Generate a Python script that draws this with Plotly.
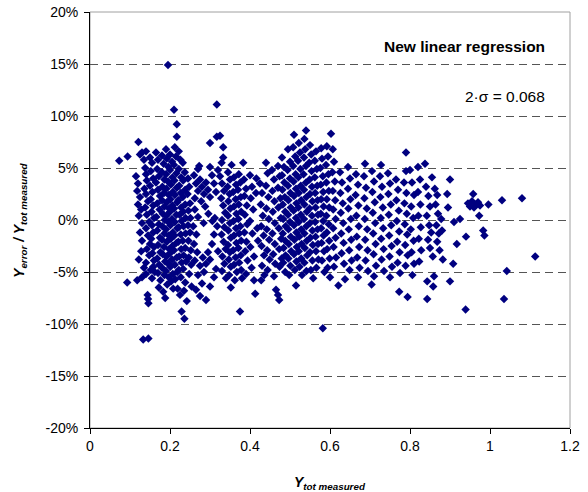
import plotly.graph_objects as go

# (Y_tot measured, Y_error / Y_tot measured in %)
pts_left = [(0.073,5.7),(0.094,6.1),(0.121,7.5),(0.093,-6.0),(0.133,-11.5),(0.146,-11.4),
(0.125,6.3),(0.13,6.5),(0.14,6.6),(0.115,4.2),(0.12,3.5),(0.118,2.8),(0.125,2.2),(0.12,1.5),(0.128,1.0),(0.122,0.4),(0.13,-0.3),(0.125,-1.2),(0.13,-2.0),(0.128,-3.0),(0.122,-3.8),(0.135,-4.6),(0.13,-5.5),(0.118,-5.8),(0.14,-5.2),(0.144,-7.2),(0.145,-7.6),(0.146,-8.0),(0.135,5.8),(0.138,5.0),(0.14,4.4),(0.142,3.8),(0.136,3.0),(0.14,2.5),(0.145,1.8),(0.138,1.2),(0.142,0.5),(0.148,-0.2),(0.14,-0.8),(0.145,-1.5),(0.15,-2.3),(0.142,-2.8),(0.148,-3.4),(0.14,-4.1),(0.152,-4.8),(0.155,-5.6),(0.15,6.0),(0.155,5.5),(0.152,4.7),(0.158,4.0),(0.15,3.3),(0.156,2.7),(0.152,2.0),(0.158,1.4),(0.154,0.8),(0.16,0.2),(0.155,-0.5),(0.158,-1.2),(0.153,-1.8),(0.16,-2.6),(0.156,-3.2),(0.16,-3.9),(0.158,-4.5),(0.162,-5.0)]

pts_core = [(0.165,6.5),(0.17,5.8),(0.168,4.9),(0.172,4.2),(0.165,3.6),(0.17,2.9),(0.175,2.3),(0.168,1.6),(0.174,1.0),(0.166,0.3),(0.172,-0.4),(0.168,-1.0),(0.175,-1.7),(0.17,-2.4),(0.176,-3.1),(0.168,-3.7),(0.173,-4.3),(0.17,-5.1),(0.176,-5.8),(0.172,-6.5),
(0.18,6.2),(0.184,5.4),(0.18,4.6),(0.186,3.9),(0.181,3.2),(0.185,2.6),(0.18,1.9),(0.186,1.3),(0.182,0.6),(0.187,0.0),(0.181,-0.6),(0.186,-1.3),(0.18,-1.9),(0.185,-2.6),(0.182,-3.3),(0.188,-4.0),(0.18,-4.6),(0.186,-5.3),(0.183,-6.9),(0.188,-7.5),
(0.19,6.8),(0.195,14.9),(0.192,5.9),(0.196,5.1),(0.19,4.4),(0.195,3.7),(0.191,3.0),(0.197,2.4),(0.192,1.7),(0.198,1.1),(0.191,0.4),(0.196,-0.2),(0.19,-0.9),(0.197,-1.5),(0.192,-2.1),(0.198,-2.8),(0.191,-3.5),(0.196,-4.2),(0.19,-4.9),(0.197,-5.5),(0.193,-6.2),
(0.2,6.3),(0.205,5.6),(0.2,4.8),(0.206,4.1),(0.202,3.4),(0.207,2.7),(0.201,2.0),(0.206,1.4),(0.2,0.8),(0.205,0.1),(0.201,-0.5),(0.207,-1.2),(0.202,-1.8),(0.206,-2.5),(0.2,-3.2),(0.205,-3.8),(0.201,-4.5),(0.207,-5.2),(0.203,-5.9),(0.208,-6.6),
(0.21,10.6),(0.217,9.2),(0.217,8.0),(0.212,7.0),(0.215,6.1),(0.21,5.3),(0.216,4.5),(0.211,3.8),(0.217,3.1),(0.212,2.4),(0.218,1.7),(0.21,1.1),(0.216,0.5),(0.212,-0.2),(0.218,-0.8),(0.211,-1.5),(0.216,-2.2),(0.21,-2.9),(0.217,-3.6),(0.212,-4.3),(0.218,-5.0),(0.213,-5.7),(0.219,-6.6),
(0.222,6.6),(0.226,5.8),(0.222,4.9),(0.228,4.1),(0.223,3.3),(0.227,2.6),(0.221,1.9),(0.228,1.2),(0.224,0.5),(0.229,-0.1),(0.222,-0.7),(0.227,-1.4),(0.221,-2.1),(0.228,-2.8),(0.223,-3.5),(0.229,-4.1),(0.222,-4.8),(0.227,-5.5),(0.229,-8.8),(0.236,-9.5),(0.225,-7.2),
(0.232,5.5),(0.237,4.6),(0.233,3.8),(0.238,2.9),(0.232,2.2),(0.238,1.5),(0.233,0.8),(0.239,0.2),(0.234,-0.6),(0.239,-1.3),(0.232,-2.0),(0.238,-2.7),(0.234,-3.4),(0.24,-4.0),(0.233,-4.7),(0.238,-6.0),(0.235,-6.8),(0.242,-7.8),
(0.245,4.0),(0.248,3.2),(0.244,2.5),(0.25,1.6),(0.246,0.9),(0.251,0.2),(0.245,-0.5),(0.25,-1.2),(0.246,-2.0),(0.252,-2.9),(0.247,-3.6),(0.253,-4.3),(0.248,-5.2),(0.254,-6.4)]

pts_mid1 = [(0.26,4.3),(0.265,3.5),(0.27,2.8),(0.262,2.1),(0.275,3.9),(0.28,3.2),(0.285,2.5),(0.278,1.8),(0.29,3.6),(0.295,2.9),(0.3,2.2),(0.288,1.3),(0.296,0.6),(0.262,1.0),(0.27,0.3),(0.258,-0.6),(0.266,-1.4),(0.26,-2.3),(0.268,-3.1),(0.262,-3.9),(0.275,-4.4),(0.27,-5.3),(0.282,-3.6),(0.29,-4.2),(0.285,-5.0),(0.295,-3.1),(0.3,-3.8),(0.305,-2.3),(0.31,-1.4),(0.28,-6.1),(0.265,-6.7),(0.275,-7.3),(0.29,-7.7),(0.3,-6.4),(0.31,-5.5),(0.315,-4.7),(0.317,11.1),(0.3,5.1),(0.305,4.3),(0.31,3.5),(0.315,2.7),(0.32,4.8),(0.312,0.2),(0.318,-0.6),(0.306,-0.1),(0.32,-3.0),(0.284,-0.3),(0.27,4.9),
(0.30,7.4),(0.317,8.0),(0.325,8.1),(0.333,7.0),(0.333,6.0),(0.329,5.5),(0.354,5.3),(0.383,5.5),(0.273,5.2)]

pts_mid2 = [(0.325,4.2),(0.33,3.5),(0.335,2.8),(0.328,2.1),(0.333,1.4),(0.338,0.7),(0.33,0.0),(0.336,-0.7),(0.329,-1.4),(0.334,-2.1),(0.339,-2.8),(0.331,-3.5),(0.336,-4.2),(0.33,-4.9),(0.34,-5.6),
(0.345,4.6),(0.35,3.9),(0.344,3.2),(0.349,2.5),(0.346,1.8),(0.351,1.1),(0.345,0.4),(0.35,-0.3),(0.346,-1.0),(0.352,-1.7),(0.345,-2.4),(0.35,-3.1),(0.347,-3.8),(0.352,-4.5),(0.348,-5.3),(0.352,-6.5),
(0.36,4.1),(0.365,3.4),(0.358,2.7),(0.364,2.0),(0.36,1.3),(0.366,0.6),(0.359,-0.1),(0.365,-0.8),(0.36,-1.5),(0.366,-2.2),(0.358,-2.9),(0.364,-3.6),(0.36,-4.3),(0.367,-5.0),(0.362,-5.8),
(0.372,4.4),(0.376,3.6),(0.37,2.9),(0.377,2.2),(0.372,1.5),(0.378,0.8),(0.371,0.1),(0.376,-0.6),(0.373,-1.3),(0.378,-2.0),(0.371,-2.7),(0.377,-3.4),(0.373,-4.1),(0.378,-4.8),(0.375,-8.8),(0.38,-5.6),
(0.385,3.9),(0.39,3.0),(0.386,2.3),(0.392,1.4),(0.387,0.5),(0.393,-0.4),(0.386,-1.2),(0.391,-2.1),(0.388,-3.0),(0.394,-3.9),(0.39,-5.2),
(0.4,4.3),(0.405,3.2),(0.402,2.1),(0.408,1.0),(0.4,-0.1),(0.406,-1.3),(0.401,-2.6),(0.41,-3.5),(0.404,-4.6),(0.41,-5.8),(0.415,2.6),(0.418,-0.8),(0.42,-2.0),(0.416,4.0),(0.413,-7.1)]

pts_mid3 = [(0.425,3.5),(0.43,2.6),(0.427,1.5),(0.432,0.4),(0.428,-0.6),(0.434,-1.5),(0.429,-2.5),(0.435,-3.4),(0.43,-4.4),(0.436,-5.3),(0.428,-5.8),
(0.44,5.5),(0.444,4.5),(0.44,3.3),(0.446,2.2),(0.441,1.1),(0.447,0.1),(0.442,-0.9),(0.448,-1.9),(0.443,-2.9),(0.449,-3.8),(0.444,-4.8),
(0.455,4.8),(0.46,3.9),(0.456,2.8),(0.461,1.8),(0.457,0.8),(0.462,-0.3),(0.456,-1.3),(0.462,-2.3),(0.458,-3.3),(0.463,-4.2),(0.46,-5.4),(0.465,-6.7),(0.47,-7.2),(0.473,-7.7),
(0.47,5.2),(0.474,4.2),(0.47,3.1),(0.476,2.1),(0.471,1.2),(0.477,0.2),(0.472,-0.8),(0.478,-1.8),(0.473,-2.8),(0.479,-3.7),(0.474,-4.5)]

pts_dense = [(0.48,6.0),(0.485,5.1),(0.48,4.3),(0.486,3.6),(0.481,2.9),(0.487,2.2),(0.482,1.5),(0.488,0.8),(0.483,0.1),(0.489,-0.6),(0.482,-1.3),(0.488,-2.0),(0.484,-2.7),(0.489,-3.4),(0.483,-4.1),(0.488,-5.0),
(0.495,6.8),(0.5,5.6),(0.494,4.8),(0.5,4.0),(0.495,3.3),(0.501,2.6),(0.496,1.9),(0.502,1.2),(0.495,0.5),(0.5,-0.2),(0.496,-0.9),(0.502,-1.6),(0.497,-2.3),(0.503,-3.0),(0.496,-3.7),(0.501,-4.4),(0.498,-5.3),
(0.51,8.2),(0.508,7.0),(0.513,6.1),(0.508,5.2),(0.514,4.4),(0.509,3.7),(0.515,3.0),(0.51,2.3),(0.516,1.6),(0.509,0.9),(0.515,0.2),(0.51,-0.5),(0.516,-1.2),(0.511,-1.9),(0.517,-2.6),(0.51,-3.3),(0.516,-4.0),(0.512,-4.8),(0.515,-6.3),
(0.522,7.4),(0.525,6.5),(0.52,5.7),(0.526,4.9),(0.521,4.1),(0.527,3.3),(0.522,2.6),(0.528,1.9),(0.521,1.2),(0.527,0.5),(0.522,-0.2),(0.528,-0.9),(0.523,-1.6),(0.529,-2.3),(0.522,-3.0),(0.528,-3.7),(0.524,-4.5),(0.53,-5.3),
(0.54,8.6),(0.536,7.8),(0.538,6.8),(0.535,6.0),(0.54,5.2),(0.534,4.4),(0.54,3.6),(0.535,2.9),(0.541,2.2),(0.536,1.5),(0.542,0.8),(0.535,0.1),(0.541,-0.6),(0.536,-1.3),(0.542,-2.0),(0.537,-2.7),(0.543,-3.4),(0.536,-4.1),(0.541,-4.9),
(0.55,7.2),(0.553,6.3),(0.548,5.5),(0.554,4.7),(0.549,3.9),(0.555,3.2),(0.55,2.5),(0.556,1.8),(0.549,1.1),(0.555,0.4),(0.55,-0.3),(0.556,-1.0),(0.551,-1.7),(0.557,-2.4),(0.55,-3.1),(0.556,-3.9),(0.552,-4.8),(0.558,-5.6),
(0.565,6.6),(0.562,5.7),(0.567,4.9),(0.562,4.1),(0.568,3.3),(0.563,2.6),(0.569,1.9),(0.564,1.2),(0.57,0.5),(0.563,-0.2),(0.569,-0.9),(0.564,-1.6),(0.57,-2.3),(0.565,-3.0),(0.571,-3.8),(0.566,-4.6),(0.582,-10.4),
(0.578,6.9),(0.58,5.9),(0.576,5.0),(0.582,4.2),(0.577,3.4),(0.583,2.7),(0.578,2.0),(0.584,1.3),(0.577,0.6),(0.583,-0.1),(0.578,-0.8),(0.584,-1.5),(0.579,-2.2),(0.585,-3.0),(0.58,-3.9),(0.586,-5.0),
(0.6025,8.3),(0.592,7.1),(0.595,6.1),(0.59,5.3),(0.596,4.4),(0.591,3.6),(0.597,2.8),(0.592,2.0),(0.598,1.2),(0.591,0.4),(0.597,-0.4),(0.592,-1.2),(0.598,-2.0),(0.593,-2.8),(0.599,-3.7),(0.594,-4.6),(0.6,-5.5),
(0.607,6.8),(0.61,5.6),(0.606,4.6),(0.612,3.7),(0.607,2.8),(0.613,1.9),(0.608,1.0),(0.614,0.1),(0.608,-0.8),(0.614,-1.7),(0.609,-2.6),(0.615,-3.6),(0.61,-4.5),(0.621,-6.3)]

pts_right1 = [(0.625,4.6),(0.63,3.6),(0.626,2.6),(0.632,1.6),(0.627,0.7),(0.633,-0.3),(0.628,-1.3),(0.634,-2.2),(0.629,-3.2),(0.635,-4.2),(0.6375,-5.7),
(0.645,5.1),(0.65,4.0),(0.645,3.0),(0.651,2.0),(0.646,1.1),(0.652,0.1),(0.647,-0.9),(0.653,-1.9),(0.648,-2.9),(0.654,-3.9),(0.649,-4.8),
(0.665,4.4),(0.67,3.4),(0.664,2.4),(0.671,1.4),(0.666,0.4),(0.672,-0.6),(0.667,-1.6),(0.673,-2.6),(0.668,-3.6),(0.674,-4.6),(0.67,-5.5),
(0.6875,5.4),(0.685,4.2),(0.69,3.1),(0.686,2.1),(0.692,1.1),(0.687,0.1),(0.693,-0.9),(0.688,-1.9),(0.694,-2.9),(0.689,-3.9),(0.695,-4.9),(0.704,-6.2),
(0.705,4.7),(0.71,3.7),(0.706,2.7),(0.712,1.7),(0.707,0.7),(0.713,-0.3),(0.708,-1.3),(0.714,-2.3),(0.709,-3.3),(0.715,-4.4),(0.71,-5.4),
(0.7275,5.3),(0.725,4.2),(0.73,3.2),(0.726,2.2),(0.732,1.2),(0.727,0.2),(0.733,-0.8),(0.728,-1.8),(0.734,-2.8),(0.729,-3.8),(0.735,-4.9),
(0.745,4.5),(0.75,3.5),(0.746,2.5),(0.752,1.5),(0.747,0.5),(0.753,-0.5),(0.748,-1.5),(0.754,-2.5),(0.749,-3.5),(0.755,-4.5),(0.75,-5.5),
(0.765,3.9),(0.77,2.9),(0.766,1.9),(0.772,0.9),(0.767,-0.1),(0.773,-1.1),(0.768,-2.1),(0.774,-3.1),(0.769,-4.1),(0.775,-5.1),(0.773,-6.9),
(0.79,6.5),(0.79,4.7),(0.785,3.6),(0.791,2.6),(0.786,1.6),(0.792,0.6),(0.787,-0.4),(0.793,-1.4),(0.788,-2.4),(0.794,-3.4),(0.789,-4.4),(0.794,-7.4)]

pts_right2 = [(0.8,4.8),(0.805,3.6),(0.81,2.4),(0.803,1.3),(0.808,0.2),(0.802,-0.9),(0.809,-2.0),(0.804,-3.1),(0.81,-4.2),(0.806,-5.3),
(0.82,5.1),(0.825,3.9),(0.82,2.7),(0.826,1.5),(0.821,0.4),(0.827,-0.7),(0.822,-1.8),(0.828,-2.9),(0.823,-4.0),
(0.8375,5.4),(0.855,4.1),(0.84,3.2),(0.846,2.3),(0.85,1.3),(0.842,0.4),(0.848,-0.5),(0.853,-1.2),(0.845,-1.9),(0.85,-2.7),(0.857,-3.5),(0.843,-5.9),(0.858,-6.4),(0.86,-5.4),(0.843,-7.6),
(0.862,3.0),(0.868,2.4),(0.864,1.5),(0.87,0.6),(0.866,-0.5),(0.872,-1.3),(0.868,-2.1),(0.874,-2.9),(0.882,-3.8),(0.878,0.1),(0.88,-1.0),
(0.90,3.9),(0.893,2.5),(0.895,1.2),(0.9,-5.9),(0.908,-4.2),(0.91,-0.2),(0.917,-2.3),(0.925,0.1)]

pts_tail = [(0.939,-8.6),(0.94,-1.6),(0.958,2.5),(0.945,1.6),(0.95,1.3),(0.955,1.8),(0.96,1.2),(0.965,1.5),(0.97,1.7),(0.975,1.4),(0.973,0.4),(0.983,-1.0),(0.986,-1.5),(0.996,1.5),(1.03,1.9),(1.08,2.1),(1.113,-3.5),(1.042,-4.9),(1.035,-7.6)]

x_ticks = [0, 0.2, 0.4, 0.6, 0.8, 1.0, 1.2]
x_tick_text = ["0", "0.2", "0.4", "0.6", "0.8", "1", "1.2"]
y_ticks = [-20, -15, -10, -5, 0, 5, 10, 15, 20]
y_tick_text = ["-20%", "-15%", "-10%", "-5%", "0%", "5%", "10%", "15%", "20%"]

all_pts = pts_left + pts_core + pts_mid1 + pts_mid2 + pts_mid3 + pts_dense + pts_right1 + pts_right2 + pts_tail
xs = [p[0] for p in all_pts]
ys = [p[1] for p in all_pts]

FONT = "Liberation Sans, Arial, sans-serif"

fig = go.Figure()
fig.add_trace(go.Scatter(
    x=xs, y=ys, mode="markers",
    marker=dict(symbol="diamond", size=6.5, color="#000080", line=dict(width=0)),
    showlegend=False, hoverinfo="skip"))

fig.update_layout(
    width=588, height=492,
    margin=dict(l=90, r=18, t=12, b=64),
    paper_bgcolor="white", plot_bgcolor="white",
    font=dict(family=FONT, size=14, color="black"),
    xaxis=dict(range=[0, 1.2], tickvals=x_ticks, ticktext=x_tick_text, automargin=False,
               showgrid=False, zeroline=False, showline=True, linecolor="black",
               linewidth=1, ticks="outside", ticklen=5, tickcolor="black",
               tickfont=dict(size=14)),
    yaxis=dict(range=[-20, 20], tickvals=y_ticks, ticktext=y_tick_text, automargin=False,
               showgrid=True, gridcolor="#555555", gridwidth=1, griddash="8px,5px",
               zeroline=False, showline=True, linecolor="black", linewidth=1,
               ticks="outside", ticklen=5, tickcolor="black", ticklabelstandoff=3,
               tickfont=dict(size=14)),
    shapes=[dict(type="rect", xref="paper", yref="paper", x0=0, x1=1, y0=0, y1=1,
                 line=dict(color="#a0a0a0", width=1), layer="below")],
    annotations=[
        dict(text="<b>New linear regression</b>", xref="paper", yref="paper",
             x=0.952, y=0.918, xanchor="right", yanchor="middle", showarrow=False,
             font=dict(size=15.5)),
        dict(text="2·σ = 0.068", xref="paper", yref="paper",
             x=0.952, y=0.796, xanchor="right", yanchor="middle", showarrow=False,
             font=dict(size=15.5)),
        dict(text="<b><i>Y<sub>tot measured</sub></i></b>", xref="paper", yref="paper",
             x=0.5, y=-0.132, xanchor="center", yanchor="middle", showarrow=False,
             font=dict(size=14)),
        dict(text="<b><i>Y<sub>error</sub> / Y<sub>tot measured</sub></i></b>", xref="paper", yref="paper",
             x=-0.146, y=0.5, xanchor="center", yanchor="middle", showarrow=False,
             textangle=-90, font=dict(size=14)),
    ],
)

fig.write_html("out.html")
